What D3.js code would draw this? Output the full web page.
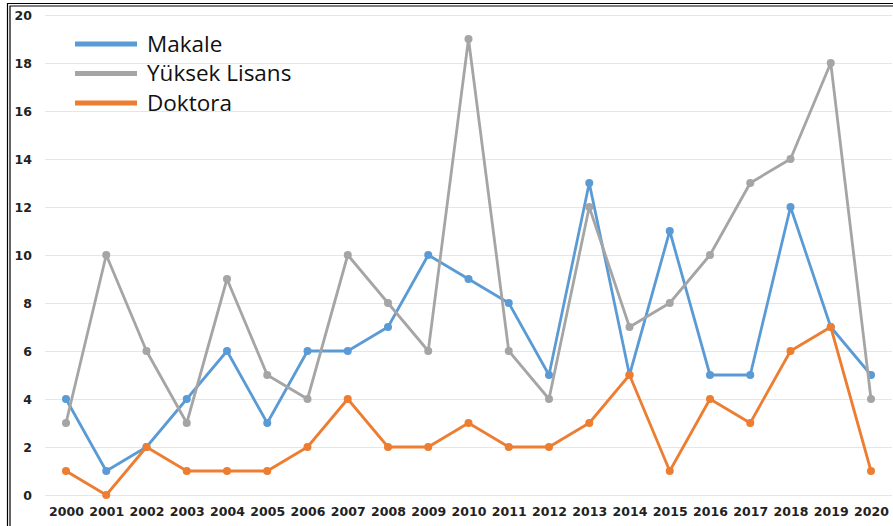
<!DOCTYPE html>
<html>
<head>
<meta charset="utf-8">
<script src="https://cdn.jsdelivr.net/npm/d3@7"></script>
<style>
  html, body { margin: 0; padding: 0; background: #fff; }
  svg { display: block; }
</style>
</head>
<body>
<svg id="chart" width="893" height="526"></svg>
<script>
const years = [2000,2001,2002,2003,2004,2005,2006,2007,2008,2009,2010,2011,2012,2013,2014,2015,2016,2017,2018,2019,2020];
const makale = [4,1,2,4,6,3,6,6,7,10,9,8,5,13,5,11,5,5,12,7,5];
const yuksekLisans = [3,10,6,3,9,5,4,10,8,6,19,6,4,12,7,8,10,13,14,18,4];
const doktora = [1,0,2,1,1,1,2,4,2,2,3,2,2,3,5,1,4,3,6,7,1];
const seriesNames = ["Makale", "Yüksek Lisans", "Doktora"];
const seriesColors = ["#5B9BD5", "#A5A5A5", "#ED7D31"];
const yTicks = [0,2,4,6,8,10,12,14,16,18,20];

const series = [makale, yuksekLisans, doktora].map((v, i) => ({
  name: seriesNames[i], color: seriesColors[i], values: v
}));

const svg = d3.select("#chart");

// frame (double line top & left)
svg.append("path").attr("d", "M7.5,526 V3.5 H893").attr("fill", "none").attr("stroke", "#000").attr("stroke-width", 1.2);
svg.append("path").attr("d", "M10,526 V6 H893").attr("fill", "none").attr("stroke", "#000").attr("stroke-width", 1.2);

const x = d3.scalePoint().domain(years).range([66, 871]);
const y = d3.scaleLinear().domain([0, 20]).range([495, 15]);

// gridlines
svg.append("g")
  .selectAll("line")
  .data(yTicks)
  .join("line")
  .attr("x1", 45).attr("x2", 892)
  .attr("y1", d => y(d) + 0.5).attr("y2", d => y(d) + 0.5)
  .attr("stroke", "#E6E6E6").attr("stroke-width", 1);

// y axis labels
const yAxis = d3.axisLeft(y).tickValues(yTicks).tickSize(0).tickPadding(0);
const gy = svg.append("g").attr("transform", "translate(32,0)").call(yAxis);
gy.select(".domain").remove();
gy.selectAll("text")
  .attr("font-family", "DejaVu Sans, sans-serif")
  .attr("font-weight", "bold")
  .attr("font-size", 12.5)
  .attr("fill", "#222");

// x axis labels
const xAxis = d3.axisBottom(x).tickSize(0).tickPadding(0);
const gx = svg.append("g").attr("transform", "translate(0,507)").call(xAxis);
gx.select(".domain").remove();
gx.selectAll("text")
  .attr("font-family", "DejaVu Sans, sans-serif")
  .attr("font-weight", "bold")
  .attr("font-size", 12.5)
  .attr("fill", "#222");

// lines
const line = d3.line().x((d, i) => x(years[i])).y(d => y(d));
series.forEach(s => {
  const g = svg.append("g");
  g.append("path")
    .attr("d", line(s.values))
    .attr("fill", "none")
    .attr("stroke", s.color)
    .attr("stroke-width", 2.8)
    .attr("stroke-linejoin", "round");
  g.selectAll("circle")
    .data(s.values)
    .join("circle")
    .attr("cx", (d, i) => x(years[i]))
    .attr("cy", d => y(d))
    .attr("r", 4)
    .attr("fill", s.color);
});

// legend
const legend = svg.append("g");
series.forEach((s, i) => {
  const ly = 44 + i * 29.5;
  legend.append("line")
    .attr("x1", 75).attr("x2", 137)
    .attr("y1", ly).attr("y2", ly)
    .attr("stroke", s.color).attr("stroke-width", 5);
  legend.append("text")
    .attr("x", 147).attr("y", ly)
    .attr("dy", "0.35em")
    .attr("font-family", "Open Sans, sans-serif")
    .attr("font-size", 22.5)
    .attr("fill", "#111")
    .text(s.name);
});
</script>
</body>
</html>
